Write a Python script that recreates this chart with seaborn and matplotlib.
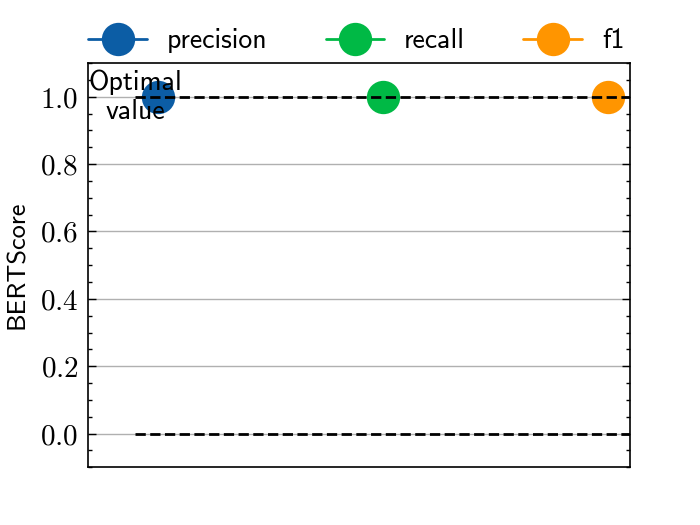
import numpy as np
import pandas as pd
import matplotlib
matplotlib.use('Agg')
import matplotlib.pyplot as plt
import seaborn as sns
from matplotlib.ticker import MultipleLocator

metrics = ['precision', 'recall', 'f1']
scores = [1.0, 1.0, 1.0]
positions = [0, 1, 2]
colors = ['#0C5DA5', '#00B945', '#FF9500']
optimal = [1.0, 0.0]

sns.set_style('white')
plt.rcParams['font.family'] = ['cmss10', 'DejaVu Sans']
plt.rcParams['mathtext.fontset'] = 'cm'
plt.rcParams['axes.formatter.use_mathtext'] = True
plt.rcParams['axes.unicode_minus'] = False
plt.rcParams['text.color'] = 'black'
plt.rcParams['axes.labelcolor'] = 'black'
plt.rcParams['ytick.color'] = 'black'

fig, ax = plt.subplots(figsize=(3.5, 2.625), dpi=200)

for m, s, p, c in zip(metrics, scores, positions, colors):
    ax.plot([p], [s], marker='o', markersize=11, color=c, label=m, linewidth=1, zorder=2)

# optimal value reference lines (drawn over the markers)
for v in optimal:
    ax.hlines(v, -0.1, 2.1, colors='black', linestyles='--', linewidth=1, zorder=3)
ax.text(-0.1, 1.0, 'Optimal\nvalue', ha='center', va='center', fontsize=10, zorder=4)

ax.set_xlim(-0.31, 2.1)
ax.set_ylim(-0.1, 1.1)
ax.set_xticks([])
ax.yaxis.set_major_locator(MultipleLocator(0.2))
ax.yaxis.set_minor_locator(MultipleLocator(0.05))
ax.yaxis.set_major_formatter(plt.FuncFormatter(lambda v, _: r'$%.1f$' % v))
ax.tick_params(axis='y', which='both', direction='in', left=True, right=True,
               width=0.5, labelsize=10.5)
ax.tick_params(axis='y', which='major', length=3)
ax.tick_params(axis='y', which='minor', length=1.5)
ax.grid(axis='y', color='#b0b0b0', linewidth=0.5)
ax.set_axisbelow(True)
for sp in ax.spines.values():
    sp.set_visible(True)
    sp.set_color('black')
    sp.set_linewidth(0.6)

ax.set_ylabel('BERTScore', fontsize=9.5)
ax.legend(loc='lower center', bbox_to_anchor=(0.495, 0.962), ncol=3, frameon=False,
          fontsize=10, handlelength=2.1, handletextpad=0.72, columnspacing=2.1)

fig.subplots_adjust(left=0.126, right=0.9, top=0.88, bottom=0.11)
fig.savefig('out.png', dpi=200)
